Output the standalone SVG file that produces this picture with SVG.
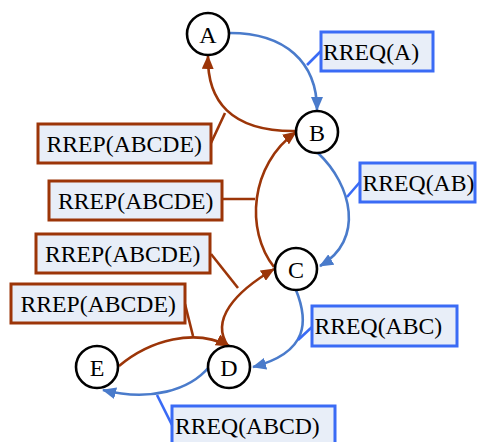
<svg xmlns="http://www.w3.org/2000/svg" width="479" height="442" viewBox="0 0 479 442">
<style>
.node circle{fill:#fff;stroke:#000;stroke-width:2.6}
.node text{font-family:"Liberation Serif","Times New Roman",serif;font-size:24px;text-anchor:middle;fill:#000}
.lbl rect{fill:#E8EEF8;stroke-width:3}
.lbl text{font-family:"Liberation Serif","Times New Roman",serif;font-size:23.7px;fill:#000}
.req rect{stroke:#3A6BF5}
.rep rect{stroke:#9C3508}
.cb{fill:none;stroke:#4A7BCB;stroke-width:2.6}
.cr{fill:none;stroke:#9C3508;stroke-width:2.6}
.lb{fill:none;stroke:#3A6BF5;stroke-width:2.6}
.lr{fill:none;stroke:#9C3508;stroke-width:2.6}
</style>
<defs>
<marker id="ab" markerUnits="userSpaceOnUse" markerWidth="14" markerHeight="12" viewBox="0 0 14 12" refX="13" refY="6" orient="auto"><path d="M0,0 L14,6 L0,12 Z" fill="#4A7BCB"/></marker>
<marker id="ar" markerUnits="userSpaceOnUse" markerWidth="14" markerHeight="12" viewBox="0 0 14 12" refX="13" refY="6" orient="auto"><path d="M0,0 L14,6 L0,12 Z" fill="#9C3508"/></marker>
</defs>
<g id="connectors">
<path class="cb" d="M230,33 C285,33 317,62 317,110" marker-end="url(#ab)"/>
<path class="cb" d="M318,153 C352,185 365,240 320,266" marker-end="url(#ab)"/>
<path class="cb" d="M296,290 C308,320 310,352 253,367" marker-end="url(#ab)"/>
<path class="cb" d="M209,367 C190,390 150,402 103,390" marker-end="url(#ab)"/>
<path class="cr" d="M119,366 C150,340 195,328 229,346" marker-end="url(#ar)"/>
<path class="cr" d="M228,346 C210,320 235,292 274,269" marker-end="url(#ar)"/>
<path class="cr" d="M274,267 C245,230 250,165 296,132" marker-end="url(#ar)"/>
<path class="cr" d="M296,131 C230,132 207,100 208,56" marker-end="url(#ar)"/>
<path class="lb" d="M321,51 L307,65"/>
<path class="lb" d="M360,182 L347,197"/>
<path class="lb" d="M312,327 L298,340"/>
<path class="lb" d="M172,425 L157,395"/>
<path class="lr" d="M211,143 L225,113"/>
<path class="lr" d="M222,199 L255,199"/>
<path class="lr" d="M211,254 L238,288"/>
<path class="lr" d="M185,304 L193,336"/>
</g>
<g id="A" class="node"><circle cx="208" cy="34" r="21"/><text x="208" y="42.5">A</text></g>
<g id="B" class="node"><circle cx="317" cy="132" r="21"/><text x="317" y="140.5">B</text></g>
<g id="C" class="node"><circle cx="296" cy="269" r="21"/><text x="296" y="277.5">C</text></g>
<g id="D" class="node"><circle cx="229" cy="367" r="21"/><text x="229" y="375.5">D</text></g>
<g id="E" class="node"><circle cx="97" cy="367" r="21"/><text x="97" y="375.5">E</text></g>
<g id="lbl-rreq-a" class="lbl req"><rect x="321" y="32" width="112" height="39"/><text x="323" y="60">RREQ(A)</text></g>
<g id="lbl-rreq-ab" class="lbl req"><rect x="360" y="163" width="115" height="39"/><text x="362.5" y="191">RREQ(AB)</text></g>
<g id="lbl-rreq-abc" class="lbl req"><rect x="312" y="306" width="145" height="40"/><text x="314.5" y="334">RREQ(ABC)</text></g>
<g id="lbl-rreq-abcd" class="lbl req"><rect x="172" y="406" width="163" height="40"/><text x="175" y="434">RREQ(ABCD)</text></g>
<g id="lbl-rrep-1" class="lbl rep"><rect x="38" y="124" width="173" height="39"/><text x="46.5" y="152">RREP(ABCDE)</text></g>
<g id="lbl-rrep-2" class="lbl rep"><rect x="49" y="181" width="173" height="39"/><text x="58" y="209">RREP(ABCDE)</text></g>
<g id="lbl-rrep-3" class="lbl rep"><rect x="36" y="234" width="174" height="39"/><text x="45" y="262">RREP(ABCDE)</text></g>
<g id="lbl-rrep-4" class="lbl rep"><rect x="11" y="284" width="174" height="39"/><text x="20.5" y="312">RREP(ABCDE)</text></g>
</svg>
